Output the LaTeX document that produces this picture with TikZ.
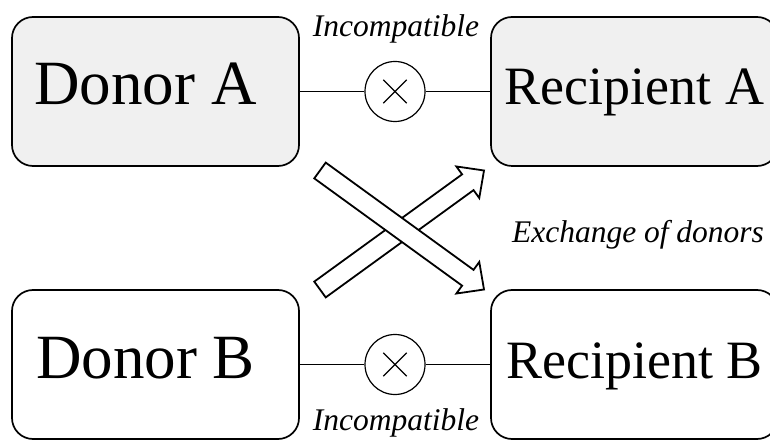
\documentclass[tikz,border=0pt]{standalone}
\usepackage{fontspec}
\setmainfont{Liberation Serif}
\usetikzlibrary{calc}
\definecolor{boxgray}{RGB}{240,240,240}

\begin{document}
\begin{tikzpicture}[x=1pt,y=1pt,
  party/.style={draw, line width=1.7pt, rounded corners=21pt,
    minimum width=287pt, minimum height=149pt, inner sep=0pt,
    text height=27pt, text depth=0pt},
  donor/.style={party, font=\fontsize{63}{63}\selectfont},
  recipient/.style={party, font=\fontsize{54}{54}\selectfont},
  patient/.style={fill=boxgray},
  mismatch/.style={circle, draw, fill=white, line width=1.2pt,
    minimum size=60pt, inner sep=0pt,
    path picture={
      \draw[line width=1.2pt]
        ($(path picture bounding box.center)+(-11.7pt,-11.7pt)$) --
        ($(path picture bounding box.center)+(11.7pt,11.7pt)$)
        ($(path picture bounding box.center)+(-11.7pt,11.7pt)$) --
        ($(path picture bounding box.center)+(11.7pt,-11.7pt)$);}},
  link/.style={line width=1.5pt},
  caption/.style={font=\itshape\fontsize{31.5}{31.5}\selectfont,
    inner sep=0pt, anchor=base},
  blockarrow/.style={draw, fill=white, line width=1.8pt, line join=miter}
]
\useasboundingbox (0,0) rectangle (770,439);

% donors and recipients (donor names sit a little left of centre)
\node[donor, patient]     (dA) at (155.5,347.5) {Donor A\hspace*{20pt}};
\node[recipient, patient] (rA) at (634.5,347.5) {Recipient A};
\node[donor]              (dB) at (155.5,74.5)  {Donor B\hspace*{20pt}};
\node[recipient]          (rB) at (634.5,74.5)  {Recipient B};

% incompatible pairs
\node[mismatch] (xA) at (395,347.5) {};
\node[mismatch] (xB) at (395,74.5)  {};
\draw[link] (dA) -- (xA) -- (rA);
\draw[link] (dB) -- (xB) -- (rB);

\node[caption] (capA) at (396,402.5) {Incompatible};
\node[caption] (capB) at (396,9)     {Incompatible};
\node[caption] (capX) at (638,196)   {Exchange of donors};

% crossed block arrows for the donor exchange
\coordinate (tB) at (320,149.5);
\coordinate (hB) at (484,268.5);
\coordinate (nB) at ($(hB)!20pt!(tB)$);
\draw[blockarrow]
  ($(tB)!9.75pt!90:(hB)$) -- ($(nB)!9.75pt!-90:(tB)$) --
  ($(nB)!19.5pt!-90:(tB)$) -- (hB) -- ($(nB)!19.5pt!90:(tB)$) --
  ($(nB)!9.75pt!90:(tB)$) -- ($(tB)!9.75pt!-90:(hB)$) -- cycle;

\coordinate (tA) at (320,268.5);
\coordinate (hA) at (484,149.5);
\coordinate (nA) at ($(hA)!20pt!(tA)$);
\draw[blockarrow]
  ($(tA)!9.75pt!90:(hA)$) -- ($(nA)!9.75pt!-90:(tA)$) --
  ($(nA)!19.5pt!-90:(tA)$) -- (hA) -- ($(nA)!19.5pt!90:(tA)$) --
  ($(nA)!9.75pt!90:(tA)$) -- ($(tA)!9.75pt!-90:(hA)$) -- cycle;
\end{tikzpicture}
\end{document}
